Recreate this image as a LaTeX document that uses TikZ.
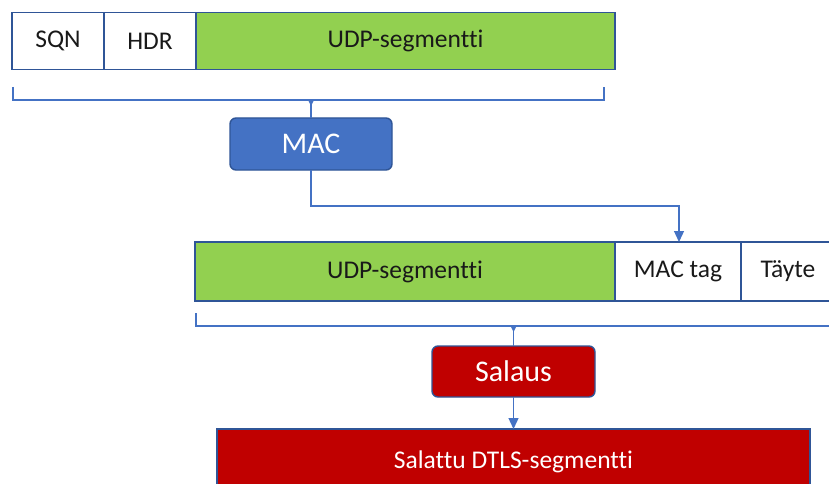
\documentclass[tikz,border=0pt]{standalone}
\usepackage{fontspec}
\setmainfont{Carlito}[Ligatures=NoCommon]
\usetikzlibrary{arrows.meta,calc}
\definecolor{segGreen}{HTML}{92D050}
\definecolor{boxEdge}{HTML}{2F5597}
\definecolor{macBlue}{HTML}{4472C4}
\definecolor{encRed}{HTML}{C00000}
\definecolor{lineBlue}{HTML}{4472C4}
\tikzset{
  field/.style={draw=boxEdge, line width=1.6pt, inner sep=0pt, outer sep=0pt,
    anchor=north west, font=\fontsize{25.5}{30}\selectfont, text=black!90},
  process/.style={draw=boxEdge, line width=1.4pt, rounded corners=6pt,
    inner sep=0pt, outer sep=0pt, anchor=north west, text=white,
    font=\fontsize{30}{34}\selectfont},
  link/.style={draw=lineBlue, line width=1.3pt},
  flow/.style={link, -{Triangle[width=10pt,length=11pt]}},
}
\begin{document}
\begin{tikzpicture}[x=1pt,y=-1pt]
\useasboundingbox (0,0) rectangle (829,484);
\clip (0,0) rectangle (829,484);

% plaintext record: sequence number, header and payload
\node[field, fill=white, minimum width=92pt, minimum height=57pt] (sqn) at (12,12.5) {SQN};
\node[field, fill=white, minimum width=92pt, minimum height=57pt] (hdr) at (104,12.5) {HDR};
\node[field, fill=segGreen, minimum width=419pt, minimum height=57pt] (udp1) at (196,12.5) {UDP-segmentti};

% brace over the whole record
\node[process, fill=macBlue, minimum width=162pt, minimum height=52pt] (mac) at (230,118) {MAC};
\coordinate (b1l) at (13,87);
\coordinate (b1r) at (604,87);
\coordinate (b1c) at (mac.north |- 0,100);
\draw[link] (b1l) -- (13,100) -- (604,100) -- (b1r);
\draw[link] (b1c) -- (mac.north);
\fill[lineBlue] ($(b1c)+(-3,0)$) -- ($(b1c)+(3,0)$) -- ($(b1c)+(0,6)$) -- cycle;

% record with MAC tag and padding
\node[field, fill=segGreen, minimum width=420pt, minimum height=59pt] (udp2) at (195,242) {UDP-segmentti};
\node[field, fill=white, minimum width=126pt, minimum height=59pt] (tag) at (615,242) {MAC tag};
\node[field, fill=white, minimum width=94pt, minimum height=59pt] (pad) at (741,242) {Täyte};

\coordinate (bend) at (679,206);
\draw[flow] (mac.south) |- (bend) -- (bend |- tag.north);

% brace over the padded record
\node[process, fill=encRed, minimum width=163pt, minimum height=51pt] (enc) at (432,346) {Salaus};
\coordinate (b2c) at (enc.north |- 0,326);
\draw[link] (196,313) -- (196,326) -- (850,326);
\draw[link] (b2c) -- (enc.north);
\fill[lineBlue] ($(b2c)+(-3,0)$) -- ($(b2c)+(3,0)$) -- ($(b2c)+(0,6)$) -- cycle;

% encrypted result
\node[field, fill=encRed, text=white, line width=1.2pt, minimum width=593pt, minimum height=66pt] (out) at (217,429) {Salattu DTLS-segmentti};
\draw[flow] (enc.south) -- (enc.south |- out.north);
\end{tikzpicture}
\end{document}
